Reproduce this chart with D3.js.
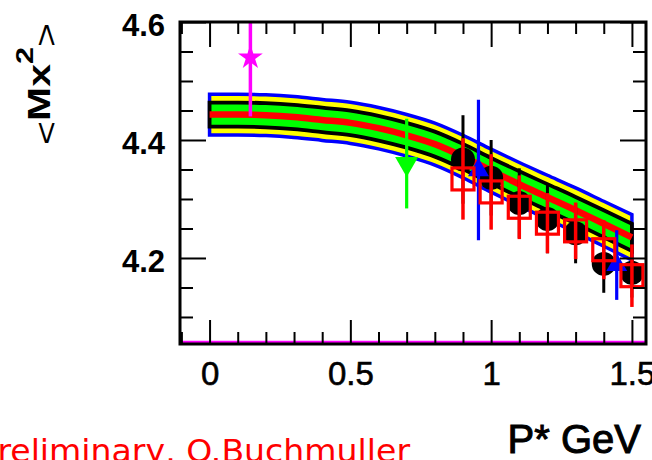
<!DOCTYPE html>
<html><head><meta charset="utf-8">
<script src="https://cdn.jsdelivr.net/npm/d3@7"></script>
<style>body{margin:0;background:#fff;overflow:hidden}</style>
</head><body><svg id="c" width="652" height="460"></svg>
<script>
// ---- data ----
const bandX      = [0, 0.1, 0.2, 0.3, 0.4, 0.5, 0.6, 0.7, 0.8, 0.9, 1.0, 1.1, 1.2, 1.3, 1.4, 1.5];
const bandCenter = [4.443, 4.443, 4.442, 4.439, 4.434, 4.429, 4.420, 4.408, 4.393, 4.372, 4.348, 4.325, 4.303, 4.281, 4.258, 4.235];
const bandOuter  = [0.0345, 0.0345, 0.0345, 0.0346, 0.0347, 0.0348, 0.0350, 0.0353, 0.0356, 0.0360, 0.0364, 0.0368, 0.0372, 0.0377, 0.0381, 0.0386];
const bandInner  = [0.0205, 0.0205, 0.0205, 0.0206, 0.0207, 0.0208, 0.0209, 0.0210, 0.0212, 0.0214, 0.0216, 0.0219, 0.0222, 0.0225, 0.0228, 0.0230];

const starX = [0.145], starY = [4.54], starErr = [0.10];
const greenX = [0.70], greenY = [4.36], greenErr = [0.076];
const blueX = [0.955, 1.446], blueY = [4.349, 4.188], blueErr = [0.119, 0.059];
const blackX = [0.9, 1.0, 1.1, 1.2, 1.3, 1.4, 1.5];
const blackY = [4.367, 4.336, 4.293, 4.266, 4.242, 4.190, 4.175];
const blackErr = [0.075, 0.064, 0.059, 0.058, 0.051, 0.049, 0.042];
const redX = [0.9, 1.0, 1.1, 1.2, 1.3, 1.4, 1.5];
const redY = [4.334, 4.312, 4.286, 4.259, 4.246, 4.214, 4.170];
const redErr = [0.069, 0.064, 0.054, 0.051, 0.048, 0.050, 0.053];

const xMajor = [0, 0.5, 1, 1.5];
const xMajorLabels = ["0", "0.5", "1", "1.5"];
const xMinor = [-0.1, 0.1, 0.2, 0.3, 0.4, 0.6, 0.7, 0.8, 0.9, 1.1, 1.2, 1.3, 1.4];
const yMajor = [4.2, 4.4, 4.6];
const yMajorLabels = ["4.2", "4.4", "4.6"];
const yMinor = [4.1, 4.15, 4.25, 4.3, 4.35, 4.45, 4.5, 4.55];

// ---- layout ----
const svg = d3.select("#c");
const L = 180, R = 646, T = 22, B = 344;
const x = d3.scaleLinear().domain([-0.105, 1.55]).range([L, R]);
const y = d3.scaleLinear().domain([4.0542, 4.6]).range([B, T]);

svg.append("clipPath").attr("id", "clip").append("rect")
  .attr("x", L).attr("y", T).attr("width", R - L).attr("height", B - T);
const g = svg.append("g").attr("clip-path", "url(#clip)");

// band
const band = bandX.map((v, i) => ({x: v, c: bandCenter[i], o: bandOuter[i], n: bandInner[i]}));
const areaOuter = d3.area().x(d => x(d.x)).y0(d => y(d.c - d.o)).y1(d => y(d.c + d.o)).curve(d3.curveMonotoneX);
const areaInner = d3.area().x(d => x(d.x)).y0(d => y(d.c - d.n)).y1(d => y(d.c + d.n)).curve(d3.curveMonotoneX);
const lineC = d3.line().x(d => x(d.x)).y(d => y(d.c)).curve(d3.curveMonotoneX);

g.append("path").attr("d", areaOuter(band)).attr("fill", "#ffff00")
  .attr("stroke", "#0000ff").attr("stroke-width", 3.5).attr("stroke-linejoin", "miter");
g.append("path").attr("d", areaInner(band)).attr("fill", "#00ff00")
  .attr("stroke", "#000").attr("stroke-width", 3.8);
g.append("path").attr("d", lineC(band)).attr("fill", "none")
  .attr("stroke", "#ff0000").attr("stroke-width", 6.5);

function errBars(xs, ys, es, color, w) {
  g.append("g").selectAll("line").data(xs).join("line")
    .attr("x1", (d) => x(d)).attr("x2", (d) => x(d))
    .attr("y1", (d, i) => y(ys[i] - es[i])).attr("y2", (d, i) => y(ys[i] + es[i]))
    .attr("stroke", color).attr("stroke-width", w);
}

// black circles
errBars(blackX, blackY, blackErr, "#000", 3);
g.append("g").selectAll("circle").data(blackX).join("circle")
  .attr("cx", d => x(d)).attr("cy", (d, i) => y(blackY[i])).attr("r", 12).attr("fill", "#000");

// blue triangles
errBars(blueX, blueY, blueErr, "#0000ff", 3.2);
g.append("g").selectAll("path").data(blueX).join("path")
  .attr("d", d3.symbol(d3.symbolTriangle, 190)())
  .attr("transform", (d, i) => `translate(${x(d)},${y(blueY[i])})`).attr("fill", "#0000ff");

// green triangle (down)
errBars(greenX, greenY, greenErr, "#00ff00", 3.2);
g.append("g").selectAll("path").data(greenX).join("path")
  .attr("d", d3.symbol(d3.symbolTriangle, 230)())
  .attr("transform", (d, i) => `translate(${x(d)},${y(greenY[i])}) rotate(180)`).attr("fill", "#00ff00");

// magenta star
errBars(starX, starY, starErr, "#ff00ff", 3.5);
g.append("g").selectAll("path").data(starX).join("path")
  .attr("d", d3.symbol(d3.symbolStar, 190)())
  .attr("transform", (d, i) => `translate(${x(d)},${y(starY[i])})`).attr("fill", "#ff00ff");

// red open squares
errBars(redX, redY, redErr, "#ff0000", 3.5);
g.append("g").selectAll("rect").data(redX).join("rect")
  .attr("x", d => x(d) - 11).attr("y", (d, i) => y(redY[i]) - 11)
  .attr("width", 22).attr("height", 22)
  .attr("fill", "none").attr("stroke", "#ff0000").attr("stroke-width", 3.2);

// magenta baseline
svg.append("line").attr("x1", L).attr("x2", R).attr("y1", B - 2).attr("y2", B - 2)
  .attr("stroke", "#ff00ff").attr("stroke-width", 2.5);

// axes
function styleAxis(sel) {
  sel.select(".domain").remove();
  sel.selectAll(".tick line").attr("stroke", "#000").attr("stroke-width", 2);
}
const font = "'Liberation Sans', Arial, Helvetica, sans-serif";

const xb = svg.append("g").attr("transform", `translate(0,${B})`)
  .call(d3.axisBottom(x).tickValues(xMajor).tickSizeInner(-24).tickSizeOuter(0).tickPadding(18)
    .tickFormat((d, i) => xMajorLabels[i]));
styleAxis(xb);
xb.selectAll("text").attr("font-family", font).attr("font-size", 33).attr("font-weight", "normal")
  .attr("fill", "#000").attr("stroke", "#000").attr("stroke-width", 0.6);
const xbm = svg.append("g").attr("transform", `translate(0,${B})`)
  .call(d3.axisBottom(x).tickValues(xMinor).tickSizeInner(-12).tickSizeOuter(0).tickFormat(""));
styleAxis(xbm);
const xt = svg.append("g").attr("transform", `translate(0,${T})`)
  .call(d3.axisTop(x).tickValues(xMajor).tickSizeInner(-25).tickSizeOuter(0).tickFormat(""));
styleAxis(xt);
const xtm = svg.append("g").attr("transform", `translate(0,${T})`)
  .call(d3.axisTop(x).tickValues(xMinor).tickSizeInner(-12).tickSizeOuter(0).tickFormat(""));
styleAxis(xtm);

const yl = svg.append("g").attr("transform", `translate(${L},0)`)
  .call(d3.axisLeft(y).tickValues(yMajor).tickSizeInner(-26).tickSizeOuter(0).tickPadding(15)
    .tickFormat((d, i) => yMajorLabels[i]));
styleAxis(yl);
yl.selectAll("text").attr("font-family", font).attr("font-size", 31).attr("font-weight", "bold")
  .attr("fill", "#000").attr("dy", "0.42em");
const ylm = svg.append("g").attr("transform", `translate(${L},0)`)
  .call(d3.axisLeft(y).tickValues(yMinor).tickSizeInner(-13).tickSizeOuter(0).tickFormat(""));
styleAxis(ylm);
const yr = svg.append("g").attr("transform", `translate(${R},0)`)
  .call(d3.axisRight(y).tickValues(yMajor).tickSizeInner(-26).tickSizeOuter(0).tickFormat(""));
styleAxis(yr);
const yrm = svg.append("g").attr("transform", `translate(${R},0)`)
  .call(d3.axisRight(y).tickValues(yMinor).tickSizeInner(-13).tickSizeOuter(0).tickFormat(""));
styleAxis(yrm);

// frame
svg.append("rect").attr("x", L).attr("y", T).attr("width", R - L).attr("height", B - T)
  .attr("fill", "none").attr("stroke", "#000").attr("stroke-width", 3);

// y title <Mx^2>
const yt = svg.append("text").attr("transform", "translate(50,84) rotate(-90) scale(1.28,1)")
  .attr("text-anchor", "middle").attr("font-family", font).attr("font-size", 32).attr("fill", "#000");
yt.append("tspan").attr("dy", 7).attr("font-weight", "normal").text("<");
yt.append("tspan").attr("dy", -7).attr("font-weight", "bold").text("Mx");
yt.append("tspan").attr("dy", -17).attr("font-size", 24).attr("font-weight", "bold").text("2");
yt.append("tspan").attr("dy", 24).attr("font-weight", "normal").text(">");

// x title
svg.append("text").attr("x", 641).attr("y", 453).attr("text-anchor", "end")
  .attr("font-family", font).attr("font-size", 40).attr("font-weight", "normal").attr("fill", "#000")
  .attr("stroke", "#000").attr("stroke-width", 1)
  .text("P* GeV");

// red note
svg.append("text").attr("x", -22).attr("y", 462)
  .attr("font-family", "'DejaVu Sans', sans-serif").attr("font-size", 32).attr("fill", "#ff0000")
  .attr("textLength", 432).attr("lengthAdjust", "spacingAndGlyphs")
  .text("Preliminary, O.Buchmuller");
</script></body></html>
